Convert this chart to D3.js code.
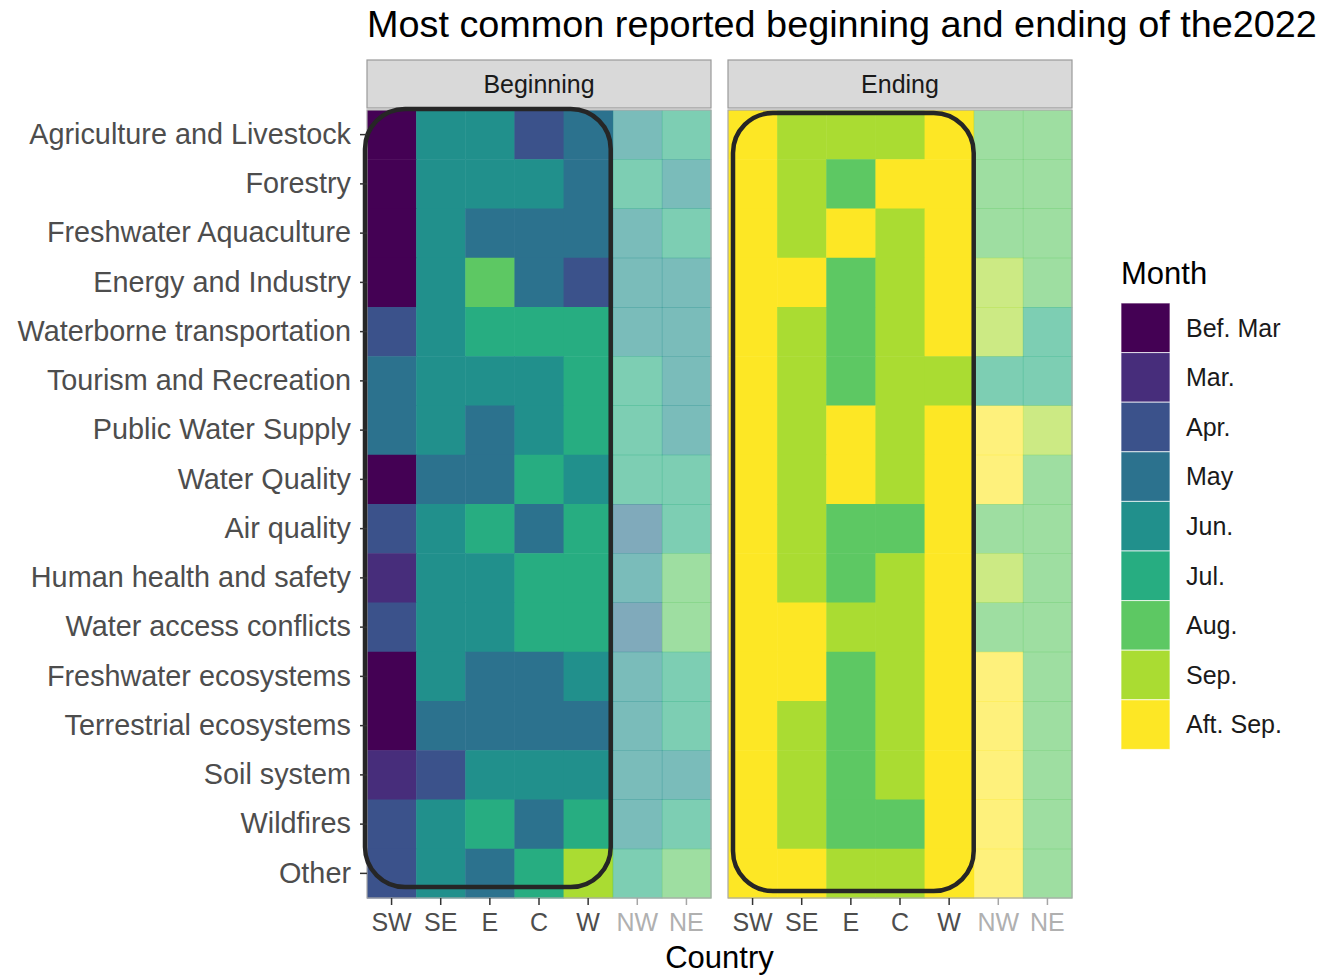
<!DOCTYPE html>
<html>
<head>
<meta charset="utf-8">
<script src="https://cdn.jsdelivr.net/npm/d3@7"></script>
<style>
  html, body { margin: 0; padding: 0; background: #fff; }
  svg { display: block; font-family: "Liberation Sans", Arial, Helvetica, sans-serif; }
</style>
</head>
<body>
<svg id="chart" width="1343" height="975"></svg>
<script>
const categories = [
  "Agriculture and Livestock", "Forestry", "Freshwater Aquaculture", "Energy and Industry",
  "Waterborne transportation", "Tourism and Recreation", "Public Water Supply", "Water Quality",
  "Air quality", "Human health and safety", "Water access conflicts", "Freshwater ecosystems",
  "Terrestrial ecosystems", "Soil system", "Wildfires", "Other"
];
const countries = ["SW", "SE", "E", "C", "W", "NW", "NE"];
const fadedCountries = ["NW", "NE"];
const months = ["Bef. Mar", "Mar.", "Apr.", "May", "Jun.", "Jul.", "Aug.", "Sep.", "Aft. Sep."];
const monthColors = ["#440154", "#472D7B", "#3B528B", "#2C728E", "#21908C", "#27AD81", "#5DC863", "#AADC32", "#FDE725"];
const facets = ["Beginning", "Ending"];

// month index per category, columns SW SE E C W NW NE
const beginning = [
  [0, 4, 4, 2, 3, 4, 5],
  [0, 4, 4, 4, 3, 5, 4],
  [0, 4, 3, 3, 3, 4, 5],
  [0, 4, 6, 3, 2, 4, 4],
  [2, 4, 5, 5, 5, 4, 4],
  [3, 4, 4, 4, 5, 5, 4],
  [3, 4, 3, 4, 5, 5, 4],
  [0, 3, 3, 5, 4, 5, 5],
  [2, 4, 5, 3, 5, 3, 5],
  [1, 4, 4, 5, 5, 4, 6],
  [2, 4, 4, 5, 5, 3, 6],
  [0, 4, 3, 3, 4, 4, 5],
  [0, 3, 3, 3, 3, 4, 5],
  [1, 2, 4, 4, 4, 4, 4],
  [2, 4, 5, 3, 5, 4, 5],
  [2, 4, 3, 5, 7, 5, 6]
];
const ending = [
  [8, 7, 7, 7, 8, 6, 6],
  [8, 7, 6, 8, 8, 6, 6],
  [8, 7, 8, 7, 8, 6, 6],
  [8, 8, 6, 7, 8, 7, 6],
  [8, 7, 6, 7, 8, 7, 5],
  [8, 7, 6, 7, 7, 5, 5],
  [8, 7, 8, 7, 8, 8, 7],
  [8, 7, 8, 7, 8, 8, 6],
  [8, 7, 6, 6, 8, 6, 6],
  [8, 7, 6, 7, 8, 7, 6],
  [8, 8, 7, 7, 8, 6, 6],
  [8, 8, 6, 7, 8, 8, 6],
  [8, 7, 6, 7, 8, 8, 6],
  [8, 7, 6, 7, 8, 8, 6],
  [8, 7, 6, 6, 8, 8, 6],
  [8, 8, 7, 7, 8, 8, 6]
];
const highlighted = ["SW", "W"]; // range of columns boxed in each panel

const svg = d3.select("#chart");
const panelTop = 110, panelBottom = 898;
const panels = [
  { name: facets[0], x0: 367, x1: 711, data: beginning, box: { dl: -2, dr: -2, dt: -1, db: -11 } },
  { name: facets[1], x0: 728, x1: 1072, data: ending, box: { dl: 5, dr: 0, dt: 3, db: -7 } }
];

const y = d3.scaleBand().domain(categories).range([panelTop, panelBottom]).padding(0);
const color = d3.scaleOrdinal().domain(months).range(monthColors);

// Title
svg.append("text")
  .attr("x", 367).attr("y", 37)
  .attr("font-size", 37.8).attr("fill", "#000")
  .text("Most common reported beginning and ending of the2022");

panels.forEach(p => {
  const x = d3.scaleBand().domain(countries).range([p.x0, p.x1]).padding(0);
  const g = svg.append("g");

  // strip
  g.append("rect")
    .attr("x", p.x0).attr("y", 60).attr("width", p.x1 - p.x0).attr("height", 48)
    .attr("fill", "#D9D9D9").attr("stroke", "#9a9a9a").attr("stroke-width", 1.2);
  g.append("text")
    .attr("x", (p.x0 + p.x1) / 2).attr("y", 93)
    .attr("text-anchor", "middle").attr("font-size", 25).attr("fill", "#1a1a1a")
    .text(p.name);

  // cells
  const cells = [];
  categories.forEach((c, i) => countries.forEach((k, j) => cells.push({ c, k, m: months[p.data[i][j]] })));
  g.selectAll("rect.cell").data(cells).join("rect")
    .attr("class", "cell")
    .attr("x", d => x(d.k)).attr("y", d => y(d.c))
    .attr("width", x.bandwidth() + 0.5).attr("height", y.bandwidth() + 0.5)
    .attr("fill", d => color(d.m))
    .attr("fill-opacity", d => fadedCountries.includes(d.k) ? 0.6 : 1);

  // panel border
  g.append("rect")
    .attr("x", p.x0).attr("y", panelTop).attr("width", p.x1 - p.x0).attr("height", panelBottom - panelTop)
    .attr("fill", "none").attr("stroke", "#a8a8a8").attr("stroke-width", 1.2);

  // x axis
  const xa = g.append("g").attr("transform", `translate(0,${panelBottom})`)
    .call(d3.axisBottom(x).tickSize(7).tickPadding(7));
  xa.select(".domain").remove();
  xa.selectAll(".tick line")
    .attr("stroke", d => fadedCountries.includes(d) ? "#a6a6a6" : "#333").attr("stroke-width", 1.5);
  xa.selectAll(".tick text")
    .attr("font-size", 25).attr("font-family", "Liberation Sans, Arial, sans-serif")
    .attr("fill", d => fadedCountries.includes(d) ? "#b0b0b0" : "#4d4d4d")
    .attr("dy", "0.75em");

  // highlight box
  const bx0 = x(highlighted[0]) + p.box.dl;
  const bx1 = x(highlighted[1]) + x.bandwidth() + p.box.dr;
  const by0 = y(categories[0]) + p.box.dt;
  const by1 = y(categories[categories.length - 1]) + y.bandwidth() + p.box.db;
  g.append("rect")
    .attr("x", bx0).attr("y", by0).attr("width", bx1 - bx0).attr("height", by1 - by0)
    .attr("rx", 40).attr("ry", 40)
    .attr("fill", "none").attr("stroke", "#262626").attr("stroke-width", 4.5);
});

// y axis
const ya = svg.append("g").attr("transform", `translate(${panels[0].x0},0)`)
  .call(d3.axisLeft(y).tickSize(7).tickPadding(9));
ya.select(".domain").remove();
ya.selectAll(".tick line").attr("stroke", "#333").attr("stroke-width", 1.5);
ya.selectAll(".tick text")
  .attr("font-size", 28.8).attr("font-family", "Liberation Sans, Arial, sans-serif")
  .attr("fill", "#4d4d4d");

// x axis title
svg.append("text")
  .attr("x", (panels[0].x0 + panels[1].x1) / 2).attr("y", 968)
  .attr("text-anchor", "middle").attr("font-size", 31).attr("fill", "#000")
  .text("Country");

// legend
const lx = 1121, ly = 303, keyH = 49.6, keyW = 49;
svg.append("text").attr("x", lx).attr("y", 284).attr("font-size", 31).attr("fill", "#000").text("Month");
const lg = svg.append("g");
months.forEach((m, i) => {
  lg.append("rect")
    .attr("x", lx).attr("y", ly + i * keyH).attr("width", keyW).attr("height", keyH)
    .attr("fill", color(m)).attr("stroke", "#fff").attr("stroke-width", 1).attr("stroke-opacity", 0.7);
  lg.append("text")
    .attr("x", 1186).attr("y", ly + i * keyH + keyH / 2).attr("dy", "0.35em")
    .attr("font-size", 25).attr("fill", "#1a1a1a")
    .text(m);
});
</script>
</body>
</html>
